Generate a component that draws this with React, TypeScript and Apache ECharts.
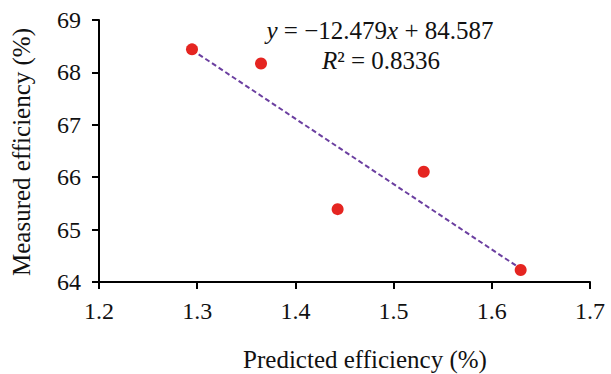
import React, { useEffect, useRef } from "react";
import * as echarts from "echarts";

const predicted = [1.2947, 1.365, 1.443, 1.5307, 1.6294];
const measured = [68.44, 68.17, 65.39, 66.105, 64.23];
const trendX = [1.2947, 1.6294];
const trendY = [68.43, 64.254];
const xTicks = [1.2, 1.3, 1.4, 1.5, 1.6, 1.7];
const yTicks = [64, 65, 66, 67, 68, 69];
const equationText = "{i|y} = \u221212.479{i|x} + 84.587";
const r2Text = "{i|R}\u00b2 = 0.8336";
const xName = "Predicted efficiency (%)";
const yName = "Measured efficiency (%)";

const FONT = "Liberation Serif";
const FS = 25;
const TICK_FS = 24;

export default function App() {
  const ref = useRef<HTMLDivElement>(null);
  useEffect(() => {
    if (!ref.current) return;
    const chart = echarts.init(ref.current, undefined, { renderer: "svg" });
    const axisLine = { show: true, lineStyle: { color: "#000", width: 2 } };
    const txt = (text: string, x: number, y: number, rot = 0) => ({
      type: "text",
      x,
      y,
      rotation: rot,
      style: {
        text,
        fontSize: FS,
        fontFamily: FONT,
        fill: "#111",
        align: "center",
        verticalAlign: "middle",
        rich: { i: { fontStyle: "italic", fontSize: FS, fontFamily: FONT, fill: "#111" } },
      },
    });
    chart.setOption({
      animation: false,
      backgroundColor: "#fff",
      textStyle: { fontFamily: FONT },
      grid: { left: 99, right: 21, top: 20, bottom: 92, containLabel: false },
      xAxis: {
        type: "value",
        min: xTicks[0],
        max: xTicks[xTicks.length - 1],
        interval: 0.1,
        axisLine,
        axisTick: { show: true, length: 7, lineStyle: { color: "#000", width: 2 } },
        axisLabel: {
          color: "#111",
          fontSize: TICK_FS,
          fontFamily: FONT,
          margin: 17,
          formatter: (v: number) => v.toFixed(1),
        },
        splitLine: { show: false },
      },
      yAxis: {
        type: "value",
        min: yTicks[0],
        max: yTicks[yTicks.length - 1],
        interval: 1,
        axisLine,
        axisTick: { show: true, length: 7, lineStyle: { color: "#000", width: 2 } },
        axisLabel: { color: "#111", fontSize: TICK_FS, fontFamily: FONT, margin: 18 },
        splitLine: { show: false },
      },
      series: [
        {
          type: "line",
          data: trendX.map((x, i) => [x, trendY[i]]),
          symbol: "none",
          lineStyle: { color: "#6b3fa0", width: 2, type: [5, 3] },
          z: 2,
        },
        {
          type: "scatter",
          data: predicted.map((x, i) => [x, measured[i]]),
          symbol: "circle",
          symbolSize: 12,
          itemStyle: { color: "#e52521", opacity: 1 },
          z: 3,
        },
      ],
      graphic: [
        txt(equationText, 380, 30),
        txt(r2Text, 381, 60),
        txt(xName, 365, 359),
        txt(yName, 21, 152, Math.PI / 2),
      ],
    });
    return () => chart.dispose();
  }, []);
  return (
    <div
      ref={ref}
      style={{ position: "fixed", left: 0, top: 0, width: 611, height: 374 }}
    />
  );
}
